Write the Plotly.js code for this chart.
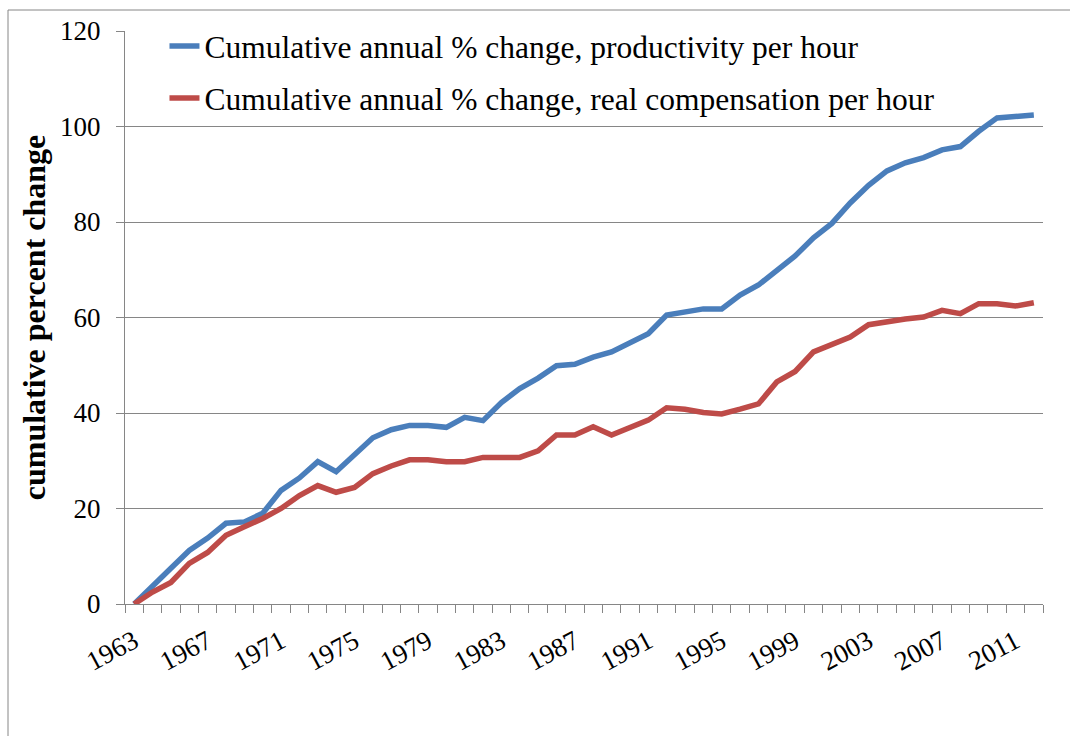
<!DOCTYPE html>
<html>
<head>
<meta charset="utf-8">
<script src="https://cdn.plot.ly/plotly-3.0.1.min.js"></script>
<style>html,body{margin:0;padding:0;background:#fff;}#chart{width:1070px;height:736px;}</style>
</head>
<body>
<div id="chart"></div>
<script>
const years = [];
for (let y = 1963; y <= 2012; y++) years.push(y);

const productivity = [0, 3.6, 7.5, 11.2, 13.8, 16.9, 17.2, 19.0, 23.8, 26.4,
  29.8, 27.7, 31.3, 34.8, 36.5, 37.4, 37.4, 37.0, 39.1, 38.4,
  42.2, 45.1, 47.3, 49.9, 50.2, 51.7, 52.8, 54.8, 56.6, 60.5,
  61.2, 61.8, 61.8, 64.7, 66.8, 69.8, 72.9, 76.7, 79.7, 84.0,
  87.7, 90.7, 92.4, 93.5, 95.1, 95.8, 99.0, 101.8, 102.1, 102.4];

const compensation = [0, 2.5, 4.5, 8.5, 10.8, 14.4, 16.2, 17.9, 20.0, 22.7,
  24.8, 23.4, 24.4, 27.3, 28.9, 30.2, 30.2, 29.8, 29.8, 30.7,
  30.7, 30.7, 32.1, 35.4, 35.4, 37.1, 35.4, 36.8, 38.5, 41.1,
  40.8, 40.1, 39.8, 40.8, 41.9, 46.5, 48.7, 52.8, 54.5, 55.9,
  58.5, 59.2, 59.7, 60.1, 61.5, 60.8, 62.9, 62.9, 62.4, 63.1];

const tickYears = [1963, 1967, 1971, 1975, 1979, 1983, 1987, 1991, 1995, 1999, 2003, 2007, 2011];
const seriesNames = ['Cumulative annual % change, productivity per hour',
  'Cumulative annual % change, real compensation per hour'];

const font = 'Liberation Serif, Times New Roman, serif';

const traces = [
  {x: years, y: productivity, name: seriesNames[0], type: 'scatter', mode: 'lines',
   line: {color: '#4A7EBB', width: 5.5}, legendgroup: 'a'},
  {x: years, y: compensation, name: seriesNames[1], type: 'scatter', mode: 'lines',
   line: {color: '#BE4B48', width: 5.5}, legendgroup: 'b'}
];

const layout = {
  width: 1070, height: 736,
  margin: {l: 125, r: 27, t: 31, b: 132},
  paper_bgcolor: '#ffffff', plot_bgcolor: '#ffffff',
  font: {family: font, color: '#000', size: 27},
  showlegend: true,
  legend: {x: 0.043, y: 1.021, xanchor: 'left', yanchor: 'top', bgcolor: 'rgba(0,0,0,0)',
    font: {family: font, size: 31.5, color: '#000'}, tracegroupgap: 8, itemwidth: 30},
  xaxis: {
    range: [1962.5, 2012.5], tickvals: tickYears, ticktext: tickYears.map(String),
    tickangle: -28, ticks: '', showgrid: false, zeroline: false,
    showline: true, linecolor: '#868686', linewidth: 1,
    tickfont: {family: font, size: 27, color: '#000'}, ticklabelstandoff: 10,
    minor: {tick0: 1962.5, dtick: 1, ticks: 'outside', ticklen: 8, tickcolor: '#868686', tickwidth: 1, showgrid: false},
    fixedrange: true
  },
  yaxis: {
    range: [0, 120], dtick: 20, tick0: 0, ticks: 'outside', ticklen: 8, tickcolor: '#868686',
    showline: true, linecolor: '#868686', linewidth: 1,
    showgrid: true, gridcolor: '#868686', gridwidth: 1, zeroline: false,
    tickfont: {family: font, size: 27, color: '#000'}, ticklabelstandoff: 10,
    title: {text: '<b>cumulative percent change</b>', font: {family: font, size: 32, color: '#000'}, standoff: 4},
    fixedrange: true
  },
  shapes: [
    {type: 'rect', xref: 'paper', yref: 'paper',
     x0: (8 - 125) / 918, x1: (1100 - 125) / 918, y0: (604 - 760) / 573, y1: (604 - 10) / 573,
     line: {color: '#868686', width: 1}, fillcolor: 'rgba(0,0,0,0)', layer: 'below'}
  ]
};

Plotly.newPlot('chart', traces, layout, {displayModeBar: false, staticPlot: true});
</script>
</body>
</html>
